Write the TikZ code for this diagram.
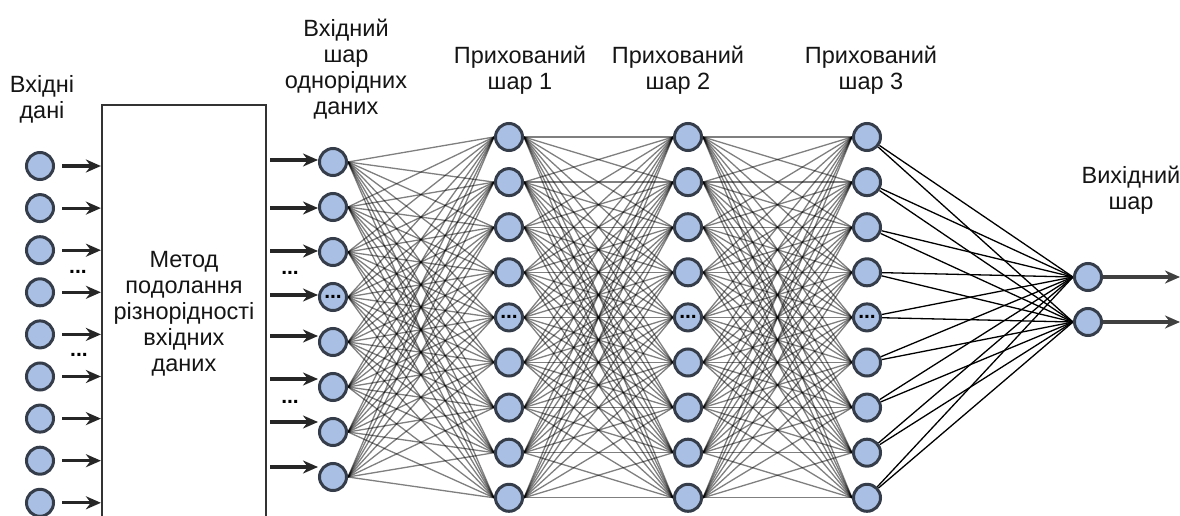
\documentclass[tikz,border=0pt]{standalone}
\usepackage{fontspec}
\setmainfont{Liberation Sans}
\usetikzlibrary{arrows.meta}
\pgfdeclarelayer{back}
\pgfdeclarelayer{bg}
\pgfsetlayers{back,bg,main}
\definecolor{nfill}{HTML}{A9BFE3}
\definecolor{nline}{HTML}{353D4A}
\definecolor{txt}{HTML}{151515}
\begin{document}
\begin{tikzpicture}[x=1pt,y=-1pt,
  neuron/.style={circle, draw=nline, line width=3pt, fill=nfill, minimum size=27pt, inner sep=0pt},
  lbl/.style={align=center, font=\fontsize{23.5}{26}\selectfont, text=txt, inner sep=0pt},
  conn/.style={draw=black, line width=1.3pt, opacity=0.5},
  outconn/.style={draw=black, line width=1.3pt},
  arr/.style={draw=black!85, line width=3.2pt, -{Stealth[length=15pt,width=13pt]}},
  dotsmark/.style={font=\fontsize{21}{21}\selectfont\bfseries, inner sep=0pt, text=black},
]
\useasboundingbox (0,0) rectangle (1180,516);
\clip (0,0) rectangle (1180,516);
\begin{pgfonlayer}{back}
\fill[white] (0,0) rectangle (1180,516);
\end{pgfonlayer}

% labels
\node[lbl, anchor=north] (lblD) at (42,75) {Вхідні\\дані};
\node[lbl, anchor=north] (lblA) at (346,19) {Вхідний\\шар\\однорідних\\даних};
\node[lbl, anchor=north] (lblH) at (520,46) {Прихований\\шар 1};
\node[lbl, anchor=north] (lblK) at (678,46) {Прихований\\шар 2};
\node[lbl, anchor=north] (lblM) at (871,46) {Прихований\\шар 3};
\node[lbl, anchor=north] (lblO) at (1131,166) {Вихідний\\шар};

% left data nodes
\foreach \i in {1,...,9} \node[neuron] (d\i) at (40,{166+42.1*(\i-1)}) {};

% method box
\node[draw=black!80, line width=2.2pt, minimum width=164pt, minimum height=418pt, lbl] (box) at (184,314)
  {Метод\\подолання\\різнорідності\\вхідних\\даних};

\foreach \i in {1,...,9} \draw[arr] ([xshift=7pt]d\i.east) -- (d\i -| box.west);
\node[dotsmark] (ld1) at (78,272) {...};
\node[dotsmark] (ld2) at (79,355) {...};

% input layer
\foreach \i in {1,...,8} \node[neuron] (a\i) at (333,{162+45*(\i-1)}) {};
\node[dotsmark] (a4d) at (a4) {...};
\foreach \i/\y in {1/160,2/208,3/251,4/295,5/336,6/379,7/422,8/467} {
  \coordinate (s\i) at (270,\y);
  \draw[arr] (s\i) -- (s\i -| a\i.west);
}
\node[dotsmark] (rd1) at (290,273) {...};
\node[dotsmark] (rd2) at (290,402) {...};

% hidden layers
\foreach \L/\x in {h/509,k/688,m/867} {
  \foreach \i in {1,...,9} \node[neuron] (\L\i) at (\x,{137+45.1*(\i-1)}) {};
  \node[dotsmark] (\L5d) at (\L5) {...};
}

% output layer
\node[neuron] (o1) at (1088,277) {};
\node[neuron] (o2) at (1088,322) {};
\coordinate (e1) at (1180,277);
\coordinate (e2) at (1180,322);
\draw[arr, draw=black!75, line width=3.4pt] (o1.east) -- (e1);
\draw[arr, draw=black!75, line width=3.4pt] (o2.east) -- (e2);

% connections
\begin{pgfonlayer}{bg}
\foreach \i in {1,...,8} \foreach \j in {1,...,9} \draw[conn] (a\i.east) -- (h\j.west);
\foreach \i in {1,...,9} \foreach \j in {1,...,9} {
  \draw[conn] (h\i.east) -- (k\j.west);
  \draw[conn] (k\i.east) -- (m\j.west);
}
\foreach \i in {1,...,9} \foreach \j in {1,2} \draw[outconn] (m\i) -- (o\j.west);
\end{pgfonlayer}
\end{tikzpicture}
\end{document}
